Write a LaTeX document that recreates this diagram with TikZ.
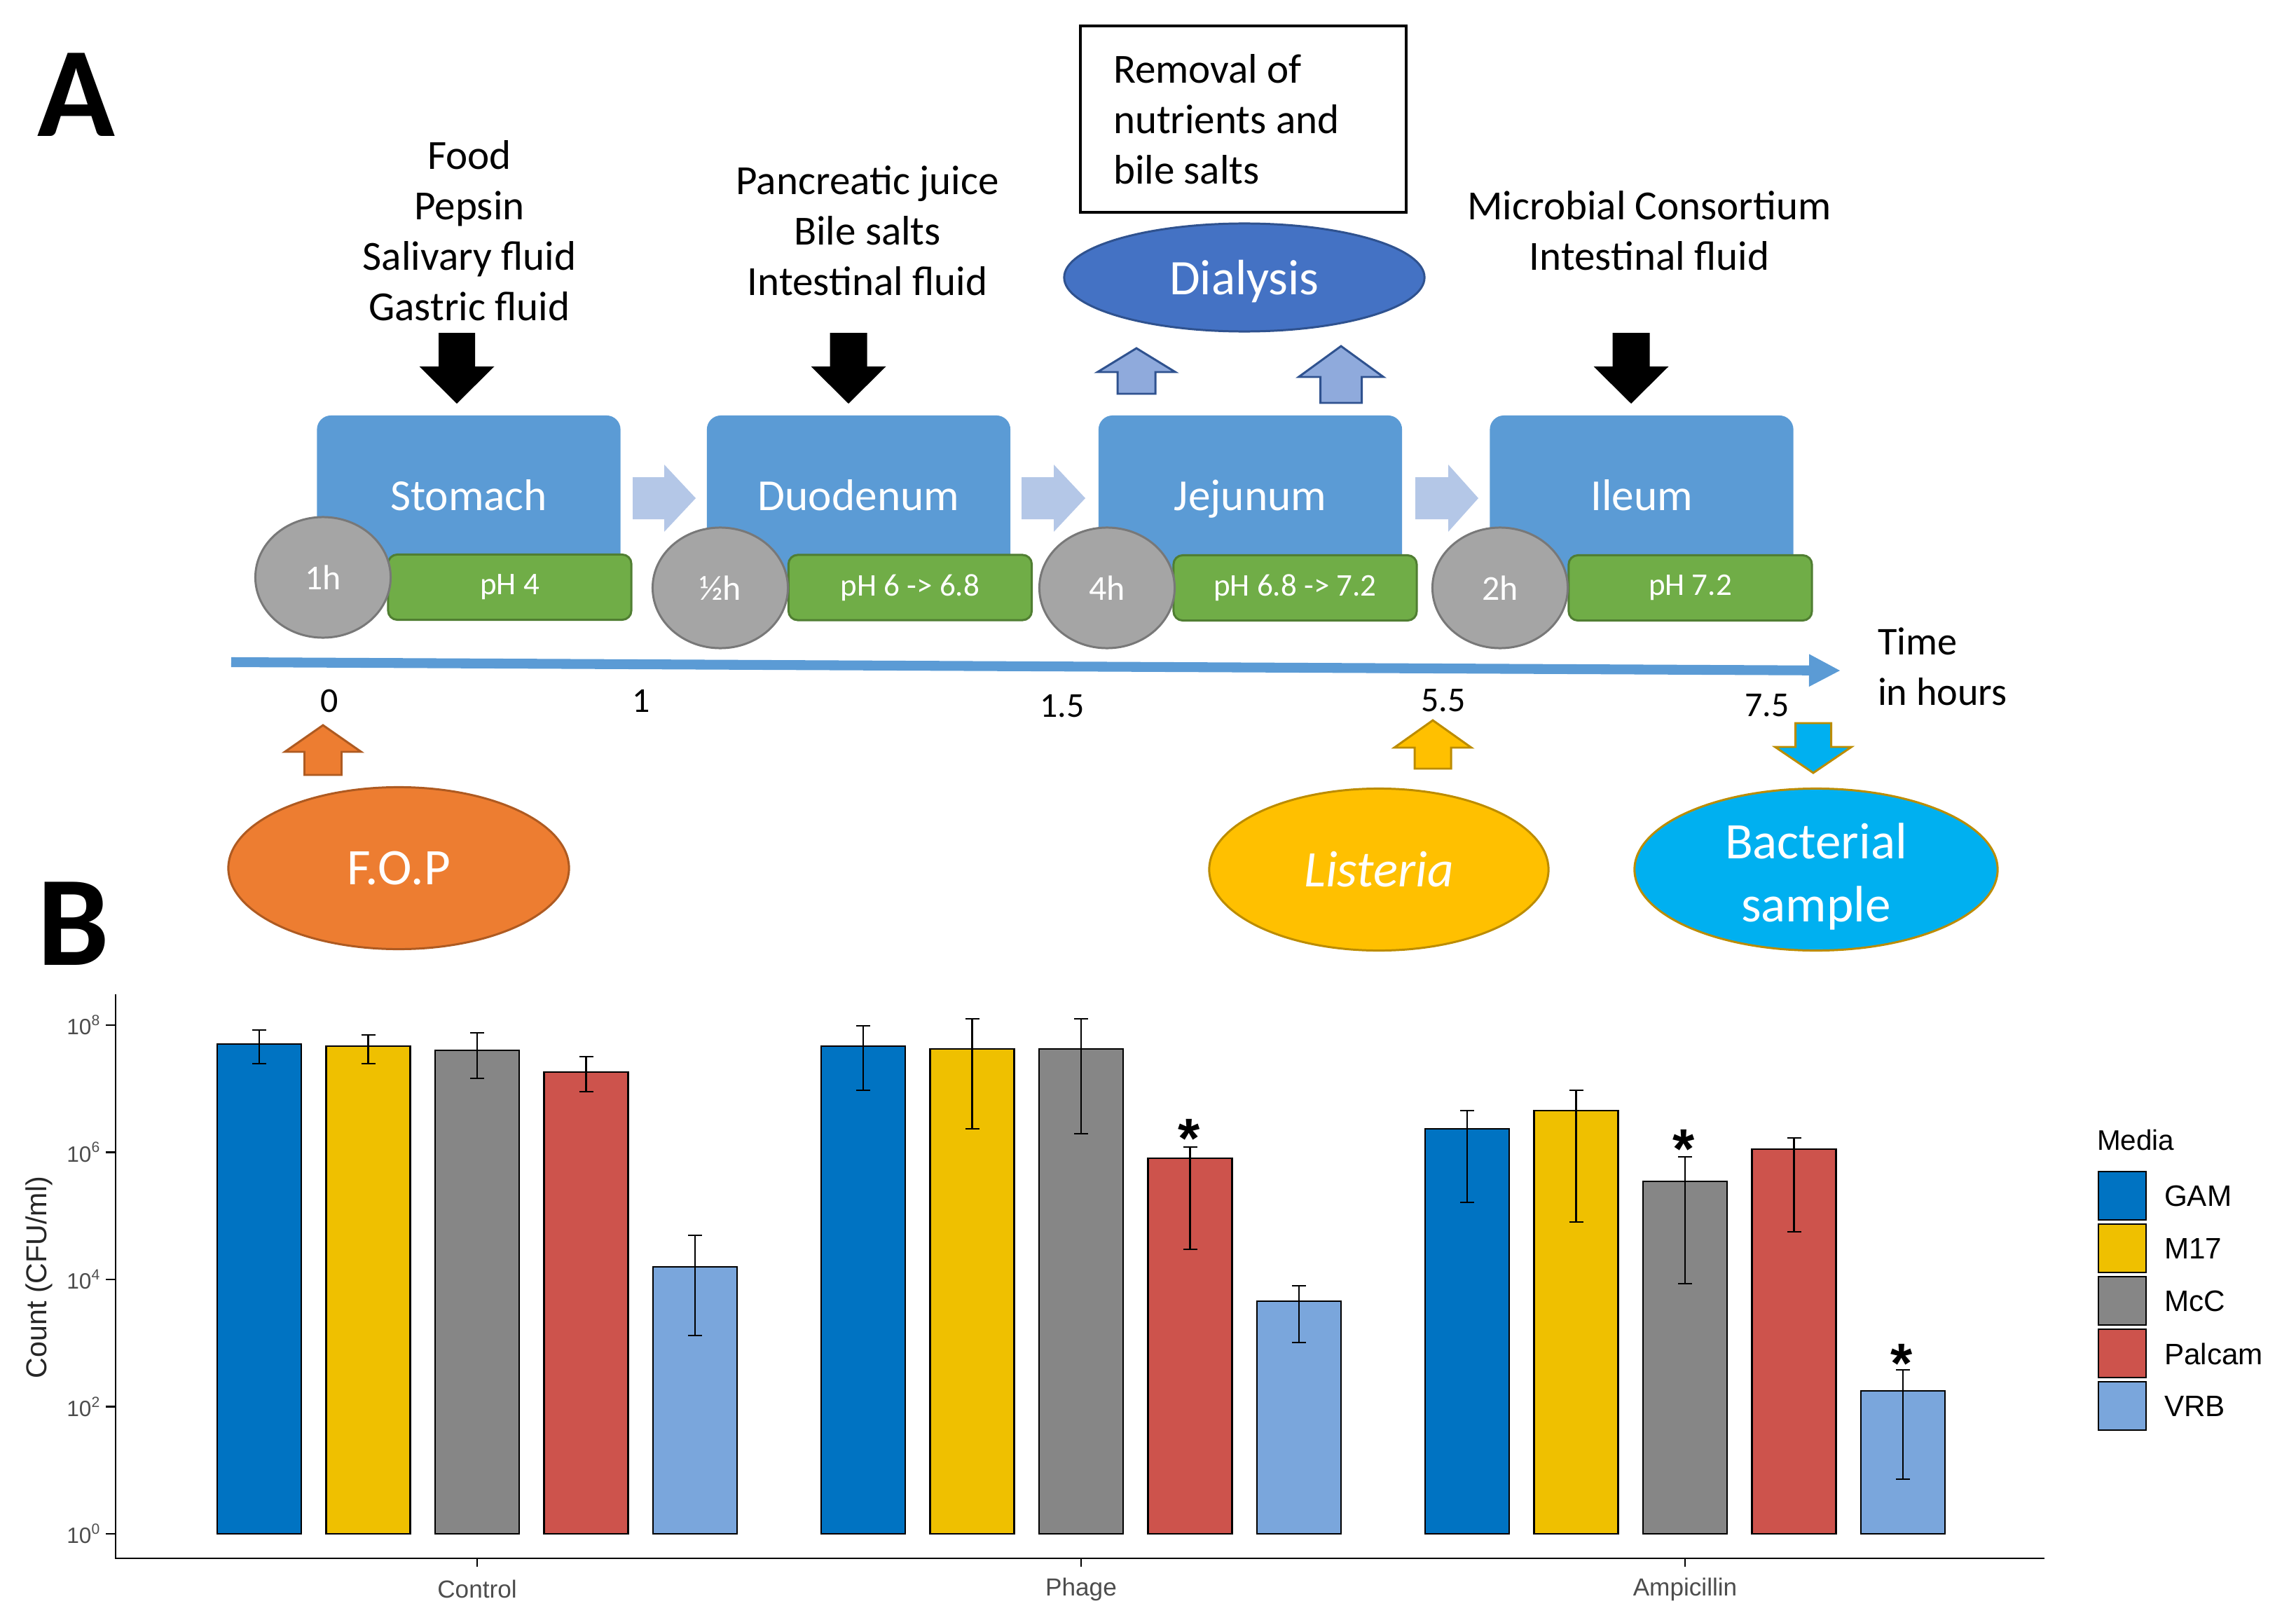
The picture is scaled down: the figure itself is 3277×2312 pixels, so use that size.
\documentclass[tikz,border=0pt]{standalone}
\usepackage{fontspec}
\setmainfont{Carlito}
\newfontfamily\chartfont{Liberation Sans}
\usetikzlibrary{shapes.geometric,arrows.meta}
\definecolor{organblue}{HTML}{5B9BD5}
\definecolor{phgreen}{HTML}{70AD47}
\definecolor{phgreenD}{HTML}{507E32}
\definecolor{circgray}{HTML}{A5A5A5}
\definecolor{circgrayD}{HTML}{787878}
\definecolor{lightarr}{HTML}{B4C7E7}
\definecolor{dialblue}{HTML}{4472C4}
\definecolor{dialblueD}{HTML}{2F528F}
\definecolor{dialarr}{HTML}{8FAADC}
\definecolor{fopor}{HTML}{ED7D31}
\definecolor{foporD}{HTML}{AE5A21}
\definecolor{listy}{HTML}{FFC000}
\definecolor{listyD}{HTML}{BC8C00}
\definecolor{bactc}{HTML}{00B0F0}
\definecolor{gamc}{HTML}{0073C2}
\definecolor{m17c}{HTML}{EFC000}
\definecolor{mccc}{HTML}{868686}
\definecolor{palc}{HTML}{CD534C}
\definecolor{vrbc}{HTML}{7AA6DC}
\definecolor{axtext}{HTML}{4D4D4D}
\newcommand{\fsz}[2]{\fontsize{#1}{#2}\selectfont}
% vertical block arrow: style, cx, tip y, head base y, tail y, head half width, shaft half width
\newcommand{\vblk}[7]{\path[#1] (#2,#3) -- ({#2+#6},#4) -- ({#2+#7},#4) -- ({#2+#7},#5) -- ({#2-#7},#5) -- ({#2-#7},#4) -- ({#2-#6},#4) -- cycle;}
% horizontal block arrow: style, cy, tip x, head base x, tail x, head half, shaft half
\newcommand{\hblk}[7]{\path[#1] (#3,#2) -- (#4,{#2-#6}) -- (#4,{#2-#7}) -- (#5,{#2-#7}) -- (#5,{#2+#7}) -- (#4,{#2+#7}) -- (#4,{#2+#6}) -- cycle;}
% bar: colour, x centre, top, error top, error bottom
\newcommand{\cbar}[5]{%
  \draw[barline, fill=#1] ({#2-60},2189) rectangle ({#2+60},#3);
  \draw[errline] ({#2-10},#4) -- ({#2+10},#4) (#2,#4) -- (#2,#5) ({#2-10},#5) -- ({#2+10},#5);}
\begin{document}
\begin{tikzpicture}[x=0.01cm,y=-0.01cm,
  every node/.style={inner sep=0pt, outer sep=0pt},
  lbl/.style={align=center, font=\fsz{16.8}{20.5}},
  organ/.style={rectangle, rounded corners=0.2cm, fill=organblue, minimum width=4.33cm, minimum height=2.37cm, text=white, font=\fsz{18}{22}, text height=12pt, text depth=2.3pt},
  phbox/.style={rectangle, rounded corners=0.13cm, fill=phgreen, draw=phgreenD, line width=0.85pt, minimum width=3.47cm, minimum height=0.93cm, text=white, font=\fsz{12.8}{15}},
  timec/.style={ellipse, fill=circgray, draw=circgrayD, line width=0.85pt, minimum width=1.93cm, minimum height=1.72cm, text=white, font=\fsz{14.2}{17}},
  bigell/.style={ellipse, line width=0.85pt, minimum height=2.31cm, text=white, align=center, font=\fsz{20.8}{25.6}},
  tnum/.style={font=\fsz{14.2}{17}},
  blackarr/.style={fill=black},
  lightarrow/.style={fill=lightarr},
  dialarrow/.style={fill=dialarr, draw=dialblueD, line width=0.85pt},
  barline/.style={draw=black, line width=0.7pt},
  errline/.style={draw=black, line width=0.8pt},
  ticklbl/.style={font=\chartfont\fsz{9}{11}, text=axtext},
  startxt/.style={font=\chartfont\bfseries\fsz{22.8}{26}},
  legkey/.style={draw=black, line width=0.8pt},
  panel/.style={anchor=base west, font=\bfseries\fsz{52}{56}}
]
\useasboundingbox (0,0) rectangle (3277,2312);
% panel letters
\node[panel] (letA) at (53,195) {A};
\node[panel] (letB) at (54,1377) {B};

% input labels
\node[lbl] (food) at (670,329) {Food\\Pepsin\\Salivary fluid\\Gastric fluid};
\node[lbl] (panc) at (1238,329) {Pancreatic juice\\Bile salts\\Intestinal fluid};
\node[lbl] (micro) at (2354,329) {Microbial Consortium\\Intestinal fluid};
\node[draw=black, line width=1pt, minimum width=4.65cm, minimum height=2.66cm] (removal) at (1774.5,170) {};
\node[anchor=west, align=left, font=\fsz{16.8}{20.5}] (removaltxt) at (1589,170) {Removal of\\nutrients and\\bile salts};
\node[ellipse, fill=dialblue, draw=dialblueD, line width=0.85pt, minimum width=5.14cm, minimum height=1.54cm, text=white, font=\fsz{20.2}{24}, text height=14.2pt, text depth=0pt] (dialysis) at (1776,396) {Dialysis};

% black input arrows
\vblk{blackarr}{652}{576}{523}{475}{53.5}{26}
\vblk{blackarr}{1211}{576}{523}{475}{53.5}{26.5}
\vblk{blackarr}{2328}{576}{523}{475}{53.5}{26.5}
% dialysis arrows
\vblk{dialarrow}{1622}{497}{531}{562}{55.5}{27}
\vblk{dialarrow}{1914}{494}{538}{575}{60.5}{29.5}

% organ boxes
\node[organ] (stomach) at (669,711.5) {Stomach};
\node[organ] (duodenum) at (1225.5,711.5) {Duodenum};
\node[organ] (jejunum) at (1784.5,711.5) {Jejunum};
\node[organ] (ileum) at (2343,711.5) {Ileum};
% transfer arrows
\hblk{lightarrow}{711}{993}{948}{903}{48}{30}
\hblk{lightarrow}{711}{1549}{1504}{1458}{48}{30}
\hblk{lightarrow}{711}{2110}{2067}{2020}{48}{30}
% pH boxes
\node[phbox] (ph1) at (727.5,838) {pH 4};
\node[phbox] (ph2) at (1299,838.5) {pH 6 -> 6.8};
\node[phbox] (ph3) at (1848.5,839) {pH 6.8 -> 7.2};
\node[phbox] (ph4) at (2412.5,839) {pH 7.2};
% durations
\node[timec] (t1) at (461,824) {1h};
\node[timec] (t2) at (1028,839) {½h};
\node[timec] (t3) at (1580,839) {4h};
\node[timec] (t4) at (2141,839) {2h};

% timeline
\coordinate (tl0) at (330,945);
\coordinate (tl1) at (2627,957);
\draw[organblue, line width=4pt, -{Triangle[length=0.45cm, width=0.43cm]}] (tl0) -- (tl1);
\node[tnum] (n0) at (470,1000) {0};
\node[tnum] (n1) at (915,1000) {1};
\node[tnum] (n15) at (1516,1008) {1.5};
\node[tnum] (n55) at (2060,1000) {5.5};
\node[tnum] (n75) at (2522,1007) {7.5};
\node[anchor=west, align=left, font=\fsz{16}{20.5}] (timelbl) at (2680,951) {Time\\in hours};

% additions / sampling
\vblk{fill=fopor, draw=foporD, line width=0.85pt}{461}{1035}{1073}{1106}{54.5}{26.5}
\vblk{fill=listy, draw=listyD, line width=0.85pt}{2045}{1028}{1067}{1097}{55}{26}
\vblk{fill=bactc, draw=listyD, line width=0.85pt}{2588}{1103}{1066}{1032}{54.5}{25.5}
\node[bigell, fill=fopor, draw=foporD, minimum width=4.86cm] (fop) at (569,1239) {F.O.P};
\node[bigell, fill=listy, draw=listyD, minimum width=4.84cm, font=\itshape\fsz{20.8}{25.6}] (listeria) at (1968,1241) {Listeria};
\node[bigell, fill=bactc, draw=listyD, minimum width=5.18cm] (bact) at (2592,1241) {};
\node[align=center, text=white, font=\fsz{20.8}{25.6}] (bacttxt) at (2592,1251) {Bacterial\\sample};

% ---- bar chart ----
\draw[black, line width=0.8pt] (165,1419) -- (165,2224) -- (2918,2224);
\foreach \k/\e in {0/8,1/6,2/4,3/2,4/0}{
  \draw[black, line width=0.8pt] (151,{1463+181.5*\k}) -- (165,{1463+181.5*\k});
  \node[ticklbl, anchor=east] at (144,{1463+181.5*\k}) {10\textsuperscript{\e}};
}
\foreach \xc/\name in {681/Control,1543/Phage,2405/Ampicillin}{
  \draw[black, line width=0.8pt] (\xc,2224) -- (\xc,2236);
  \node[font=\chartfont\fsz{10}{12}, text=axtext] at (\xc,2268) {\name};
}
\node[rotate=90, font=\chartfont\fsz{11.7}{14}, text=black!85] (ylab) at (56,1823) {Count (CFU/ml)};

% Control
\cbar{gamc}{370}{1490}{1470}{1518}
\cbar{m17c}{525.5}{1493}{1477}{1518}
\cbar{mccc}{681}{1499}{1474}{1539}
\cbar{palc}{836.5}{1530}{1508}{1558}
\cbar{vrbc}{992}{1808}{1763}{1906}
% Phage
\cbar{gamc}{1232}{1493}{1464}{1556}
\cbar{m17c}{1387.5}{1497}{1454}{1611}
\cbar{mccc}{1543}{1497}{1454}{1618}
\cbar{palc}{1698.5}{1653}{1637}{1783}
\cbar{vrbc}{1854}{1857}{1835}{1916}
% Ampicillin
\cbar{gamc}{2094}{1611}{1585}{1716}
\cbar{m17c}{2249.5}{1585}{1556}{1744}
\cbar{mccc}{2405}{1686}{1651}{1832}
\cbar{palc}{2560.5}{1640}{1624}{1758}
\cbar{vrbc}{2716}{1985}{1955}{2111}
% significance stars
\node[startxt, anchor=base] (s1) at (1697,1652) {*};
\node[startxt, anchor=base] (s2) at (2403,1667) {*};
\node[startxt, anchor=base] (s3) at (2714,1973) {*};

% legend
\node[anchor=west, font=\chartfont\fsz{11.5}{14}] (legtitle) at (2993,1627) {Media};
\foreach \i/\c/\lab in {0/gamc/GAM,1/m17c/M17,2/mccc/McC,3/palc/Palcam,4/vrbc/VRB}{
  \draw[legkey, fill=\c] (2995,{1672+75*\i}) rectangle (3063,{1741+75*\i});
  \node[anchor=west, font=\chartfont\fsz{12}{14}] at (3089,{1707+75*\i}) {\lab};
}
\end{tikzpicture}
\end{document}
